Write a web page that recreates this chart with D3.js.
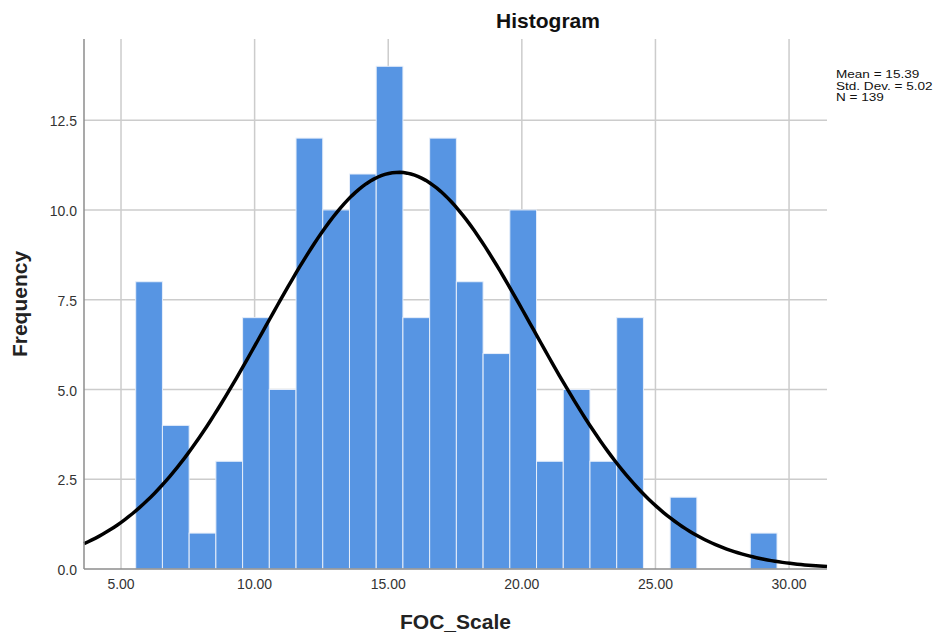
<!DOCTYPE html>
<html>
<head>
<meta charset="utf-8">
<script src="https://cdn.jsdelivr.net/npm/d3@7"></script>
<style>
  body { margin: 0; background: #fff; }
  text { font-family: "Liberation Sans", Arial, sans-serif; }
</style>
</head>
<body>
<div id="chart"></div>
<script>
  // histogram bins (start of each bin, width 1.0) and counts
  var binStarts = [5.55, 6.55, 7.55, 8.55, 9.55, 10.55, 11.55, 12.55, 13.55, 14.55, 15.55, 16.55,
                   17.55, 18.55, 19.55, 20.55, 21.55, 22.55, 23.55, 24.55, 25.55, 26.55, 27.55, 28.55];
  var counts = [8, 4, 1, 3, 7, 5, 12, 10, 11, 14, 7, 12, 8, 6, 10, 3, 5, 3, 7, 0, 2, 0, 0, 1];
  var binWidth = 1.0;

  var xTicks = [5, 10, 15, 20, 25, 30];
  var yTicks = [0, 2.5, 5, 7.5, 10, 12.5];

  var mean = 15.39, sd = 5.02, n = 139;
  var statLines = ["Mean = 15.39", "Std. Dev. = 5.02", "N = 139"];

  var width = 941, height = 637;
  var margin = {left: 84, right: 114, top: 39, bottom: 68};

  var svg = d3.select('#chart').append('svg').attr('width', width).attr('height', height);

  var x = d3.scaleLinear().domain([3.615, 31.42]).range([margin.left, width - margin.right]);
  var y = d3.scaleLinear().domain([0, 14.76]).range([height - margin.bottom, margin.top]);

  // grid lines
  svg.append('g').selectAll('line.vg')
     .data(xTicks).enter().append('line')
     .attr('x1', function(d) { return x(d); }).attr('x2', function(d) { return x(d); })
     .attr('y1', y.range()[1]).attr('y2', y.range()[0])
     .attr('stroke', '#cccccc').attr('stroke-width', 1.5);

  svg.append('g').selectAll('line.hg')
     .data(yTicks.slice(1)).enter().append('line')
     .attr('x1', x.range()[0]).attr('x2', x.range()[1])
     .attr('y1', function(d) { return y(d); }).attr('y2', function(d) { return y(d); })
     .attr('stroke', '#cccccc').attr('stroke-width', 1.5);

  // bars
  svg.append('g').selectAll('rect')
     .data(counts).enter().append('rect')
     .attr('x', function(d, i) { return x(binStarts[i]); })
     .attr('width', function(d, i) { return x(binStarts[i] + binWidth) - x(binStarts[i]); })
     .attr('y', function(d) { return y(d); })
     .attr('height', function(d) { return y(0) - y(d); })
     .attr('fill', '#5795e3')
     .attr('stroke', function(d) { return d > 0 ? '#e6eefa' : 'none'; })
     .attr('stroke-width', 1);

  // normal curve
  var curvePts = d3.range(0, 201).map(function(k) {
    return x.domain()[0] + k * (x.domain()[1] - x.domain()[0]) / 200;
  });
  var line = d3.line()
     .x(function(v) { return x(v); })
     .y(function(v) {
        var z = (v - mean) / sd;
        return y(n * binWidth * Math.exp(-0.5 * z * z) / (sd * Math.sqrt(2 * Math.PI)));
     });
  svg.append('path').datum(curvePts)
     .attr('d', line).attr('fill', 'none')
     .attr('stroke', '#000').attr('stroke-width', 3.5);

  // axes lines
  svg.append('line')
     .attr('x1', x.range()[0]).attr('x2', x.range()[0])
     .attr('y1', y.range()[1]).attr('y2', y.range()[0])
     .attr('stroke', '#8c8c8c').attr('stroke-width', 1.5);
  svg.append('line')
     .attr('x1', x.range()[0]).attr('x2', x.range()[1])
     .attr('y1', y(0)).attr('y2', y(0))
     .attr('stroke', '#8c8c8c').attr('stroke-width', 1.5);

  // tick labels
  svg.append('g').selectAll('text')
     .data(xTicks).enter().append('text')
     .attr('x', function(d) { return x(d); })
     .attr('y', y(0) + 16)
     .attr('text-anchor', 'middle').attr('dominant-baseline', 'middle')
     .attr('font-size', 14).attr('fill', '#333')
     .text(function(d) { return d3.format('.2f')(d); });

  svg.append('g').selectAll('text')
     .data(yTicks).enter().append('text')
     .attr('x', x.range()[0] - 7)
     .attr('y', function(d) { return y(d) + 2.5; })
     .attr('text-anchor', 'end').attr('dominant-baseline', 'middle')
     .attr('font-size', 14).attr('fill', '#333')
     .text(function(d) { return d3.format('.1f')(d); });

  // titles
  svg.append('text')
     .attr('x', 548).attr('y', 22)
     .attr('text-anchor', 'middle').attr('dominant-baseline', 'middle')
     .attr('font-size', 21).attr('font-weight', 'bold').attr('fill', '#111')
     .text('Histogram');

  svg.append('text')
     .attr('x', (x.range()[0] + x.range()[1]) / 2).attr('y', 623)
     .attr('text-anchor', 'middle').attr('dominant-baseline', 'middle')
     .attr('font-size', 21).attr('font-weight', 'bold').attr('fill', '#222')
     .text('FOC_Scale');

  svg.append('text')
     .attr('transform', 'translate(21,' + ((y.range()[0] + y.range()[1]) / 2) + ') rotate(-90)')
     .attr('text-anchor', 'middle').attr('dominant-baseline', 'middle')
     .attr('font-size', 21).attr('font-weight', 'bold').attr('fill', '#222')
     .text('Frequency');

  // stats box (slightly widened like the original)
  svg.append('g')
     .attr('transform', 'translate(836,0) scale(1.18,1)')
     .selectAll('text')
     .data(statLines).enter().append('text')
     .attr('x', 0)
     .attr('y', function(d, i) { return 75 + i * 11.5; })
     .attr('dominant-baseline', 'middle')
     .attr('font-size', 11.5).attr('fill', '#111')
     .text(function(d) { return d; });
</script>
</body>
</html>
